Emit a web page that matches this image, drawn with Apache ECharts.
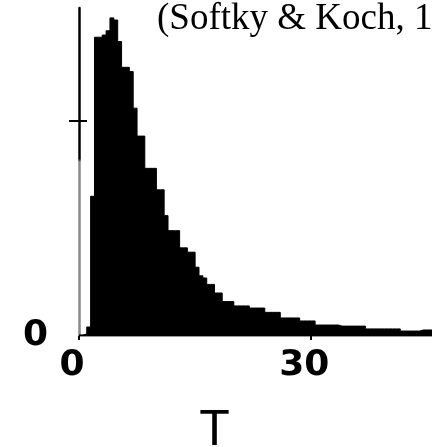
<!DOCTYPE html>
<html>
<head>
<meta charset="utf-8">
<script src="https://cdn.jsdelivr.net/npm/echarts@6/dist/echarts.min.js"></script>
<style>html,body{margin:0;padding:0;background:#fff;}#c{width:432px;height:447px;}</style>
</head>
<body>
<div id="c"></div>
<script>
// Histogram of interspike intervals T (bin width 0.5), counts in arbitrary units
const binWidth = 0.5;
const counts = [
  0.5, 0.9, 4.2, 65, 139, 139, 140, 142, 148, 147,
  137, 125, 125, 123, 106, 93, 93, 78, 78, 78,
  68, 68, 56, 49, 49, 49, 41, 41, 39, 39,
  32, 28, 27, 24, 24, 20, 20, 16, 16, 16,
  14, 14, 14, 14, 13, 13, 13, 13, 11, 11,
  11, 11, 8.4, 8.4, 8.4, 8.4, 8.4, 7, 7, 7,
  7, 5.1, 5.1, 5.1, 5.1, 5.1, 5.1, 4.6, 4.6, 4.6,
  4.6, 4.6, 4.6, 4.6, 3.3, 3.3, 3.3, 3.3, 3.3, 3.3,
  3.3, 3.3, 3.3, 2.3, 2.3, 2.3, 2.3, 2.3, 2.8, 2.8,
  2.8, 2.8
];
const xTickLabels = [0, 30];
const yTickValues = [100];
const yLabelValues = [0];
const titleText = '(Softky & Koch, 1993)';
const xName = 'T';

const stepData = counts.map((v, i) => [i * binWidth, v]);
stepData.push([counts.length * binWidth, counts[counts.length - 1]]);

const yMax = 152.6;
const axisGradient = new echarts.graphic.LinearGradient(0, 0, 0, 1, [
  { offset: 0, color: '#000' },
  { offset: 0.46, color: '#000' },
  { offset: 0.47, color: '#8a8a8a' },
  { offset: 1, color: '#8a8a8a' }
]);

const chart = echarts.init(document.getElementById('c'));
chart.setOption({
  animation: false,
  backgroundColor: '#fff',
  title: {
    text: titleText,
    left: 157,
    top: 1,
    padding: 0,
    textStyle: { fontFamily: 'Liberation Serif', fontSize: 37, fontWeight: 'normal', color: '#000' }
  },
  grid: { left: 79, right: 0, top: 8, bottom: 111, containLabel: false, outerBoundsMode: 'none' },
  xAxis: {
    type: 'value',
    min: 0,
    max: 45.6,
    interval: 30,
    name: xName,
    nameLocation: 'middle',
    nameGap: 70,
    nameTextStyle: { fontFamily: 'Liberation Sans', fontSize: 50, color: '#000', padding: [0, 82, 0, 0] },
    axisLine: { show: true, onZero: false, lineStyle: { color: '#999', width: 2 } },
    axisTick: { show: true, customValues: xTickLabels, length: 4, lineStyle: { color: '#000', width: 2 } },
    axisLabel: {
      customValues: xTickLabels,
      margin: 12,
      padding: [0, 14, 0, 0],
      fontFamily: 'DejaVu Sans', fontWeight: 'bold', fontSize: 36, color: '#000'
    },
    splitLine: { show: false }
  },
  yAxis: [{
    type: 'value',
    min: 0,
    max: yMax,
    interval: 100,
    axisLine: { show: true, lineStyle: { color: axisGradient, width: 2.5 } },
    axisTick: { show: true, customValues: yTickValues, length: 10, lineStyle: { color: '#000', width: 2 } },
    axisLabel: {
      customValues: yLabelValues,
      margin: 31,
      padding: [16, 0, 0, 0],
      fontFamily: 'DejaVu Sans', fontWeight: 'bold', fontSize: 36, color: '#000'
    },
    splitLine: { show: false }
  }, {
    type: 'value',
    position: 'left',
    min: 0,
    max: yMax,
    interval: 100,
    axisLine: { show: false },
    axisTick: { show: true, inside: true, customValues: yTickValues, length: 8, lineStyle: { color: '#000', width: 2 } },
    axisLabel: { show: false },
    splitLine: { show: false }
  }],
  series: [{
    type: 'line',
    step: 'end',
    data: stepData,
    symbol: 'none',
    lineStyle: { color: '#000', width: 1 },
    areaStyle: { color: '#000', opacity: 1 },
    z: 1
  }]
});
</script>
</body>
</html>
